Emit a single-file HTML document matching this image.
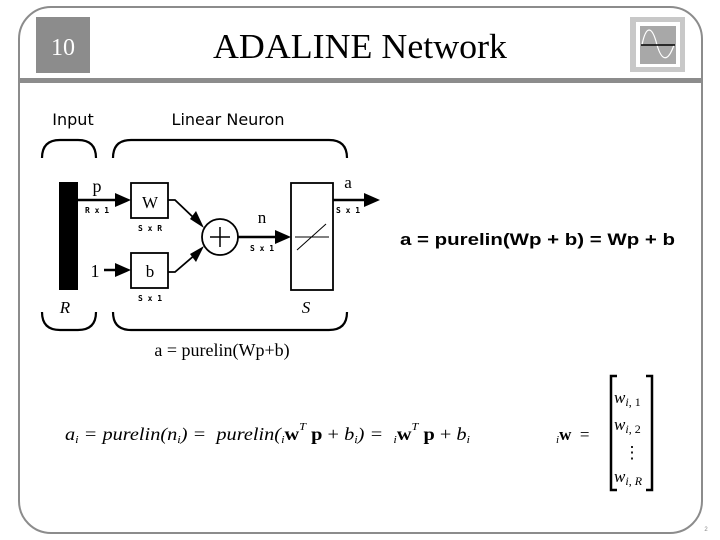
<!DOCTYPE html>
<html><head><meta charset="utf-8"><style>
html,body{margin:0;padding:0;background:#fff;}
svg{display:block;}
</style></head><body>
<svg width="720" height="540" viewBox="0 0 720 540" xmlns="http://www.w3.org/2000/svg">
<rect x="19" y="7" width="683" height="526" rx="32" ry="32" fill="#fff" stroke="#8c8c8c" stroke-width="2"/>
<rect x="19" y="78" width="683" height="5" fill="#8c8c8c"/>
<rect x="36" y="17" width="54" height="56" fill="#8c8c8c"/>
<text x="63" y="55" font-family="Liberation Serif, serif" font-size="24" fill="#fff" text-anchor="middle">10</text>
<text x="360" y="58" font-family="Liberation Serif, serif" font-size="35" fill="#000" text-anchor="middle" textLength="294" lengthAdjust="spacingAndGlyphs">ADALINE Network</text>
<rect x="630" y="17" width="55" height="55" fill="#c8c8c8"/>
<rect x="636" y="22" width="44" height="45" fill="#fff"/>
<rect x="640" y="26" width="36" height="38" fill="#a8a8a8"/>
<path d="M642 45 C646 25,652 25,657 45 C662 62,668 62,674 45" fill="none" stroke="#fff" stroke-width="1.2"/>
<line x1="641" y1="45" x2="675" y2="45" stroke="#000" stroke-width="1.5"/>

<g font-family="DejaVu Sans, sans-serif" fill="#000">
<text x="73" y="125" font-size="16" text-anchor="middle">Input</text>
<text x="228" y="125" font-size="16" text-anchor="middle">Linear Neuron</text>
</g>
<g fill="none" stroke="#000" stroke-width="2.2">
<path d="M42 158 Q42 140 60 140 L78 140 Q96 140 96 158"/>
<path d="M113 158 Q113 140 131 140 L329 140 Q347 140 347 158"/>
<path d="M42 312 Q42 330 60 330 L78 330 Q96 330 96 312"/>
<path d="M113 312 Q113 330 131 330 L329 330 Q347 330 347 312"/>
</g>
<rect x="59" y="182" width="19" height="108" fill="#000"/>
<g stroke="#000" stroke-width="2.5" fill="none">
<line x1="78" y1="200" x2="118" y2="200"/>
<line x1="104" y1="270" x2="118" y2="270"/>
<rect x="131" y="183" width="37" height="35" stroke-width="1.8"/>
<rect x="131" y="253" width="37" height="35" stroke-width="1.8"/>
<polyline points="168,200 175,200 196,220" stroke-width="1.8"/>
<polyline points="168,272 175,272 196,254" stroke-width="1.8"/>
<circle cx="220" cy="237" r="18" stroke-width="1.8"/>
<line x1="210" y1="237" x2="230" y2="237" stroke-width="1.5"/>
<line x1="220" y1="227" x2="220" y2="247" stroke-width="1.5"/>
<line x1="238" y1="237" x2="278" y2="237"/>
<rect x="291" y="183" width="42" height="107" stroke-width="1.8"/>
<line x1="295" y1="237" x2="329" y2="237" stroke-width="1"/>
<line x1="297" y1="250" x2="326" y2="224" stroke-width="1"/>
<line x1="333" y1="200" x2="367" y2="200"/>
</g>
<g fill="#000">
<polygon points="115,193 131,200 115,207"/>
<polygon points="115,263 131,270 115,277"/>
<polygon points="190,219 204,228 196,211"/>
<polygon points="190,254 204,246 196,262"/>
<polygon points="275,230 291,237 275,244"/>
<polygon points="364,193 380,200 364,207"/>
</g>
<g font-family="Liberation Serif, serif" fill="#000">
<text x="97" y="192" font-size="18" text-anchor="middle">p</text>
<text x="95" y="277" font-size="18" text-anchor="middle">1</text>
<text x="150" y="208" font-size="17" text-anchor="middle">W</text>
<text x="150" y="277" font-size="17" text-anchor="middle">b</text>
<text x="262" y="223" font-size="17" text-anchor="middle">n</text>
<text x="348" y="188" font-size="17" text-anchor="middle">a</text>
<text x="65" y="313" font-size="17" font-style="italic" text-anchor="middle">R</text>
<text x="306" y="313" font-size="17" font-style="italic" text-anchor="middle">S</text>
<text x="222" y="356" font-size="18" text-anchor="middle">a = purelin(Wp+b)</text>
</g>
<g font-family="DejaVu Sans Mono, monospace" font-size="8" font-weight="bold" fill="#000" text-anchor="middle">
<text x="97" y="213">R x 1</text>
<text x="150" y="231">S x R</text>
<text x="150" y="301">S x 1</text>
<text x="262" y="251">S x 1</text>
<text x="348" y="213">S x 1</text>
</g>
<text x="400" y="245" font-family="Liberation Sans, sans-serif" font-size="17" font-weight="bold" fill="#000" textLength="275" lengthAdjust="spacingAndGlyphs" xml:space="preserve">a = purelin(Wp + b) = Wp + b</text>
<text x="65" y="440" font-family="Liberation Serif, serif" font-size="18" font-style="italic" fill="#000" xml:space="preserve" textLength="405" lengthAdjust="spacingAndGlyphs">a<tspan font-size="11" dy="3">i</tspan><tspan dy="-3"> = purelin(n</tspan><tspan font-size="11" dy="3">i</tspan><tspan dy="-3">) =  purelin(</tspan><tspan font-size="11" dy="3">i</tspan><tspan dy="-3" font-style="normal" font-weight="bold">w</tspan><tspan font-size="11" dy="-10">T</tspan><tspan dy="10" font-style="normal" font-weight="bold"> p</tspan><tspan font-style="normal"> + </tspan>b<tspan font-size="11" dy="3">i</tspan><tspan dy="-3">) =  </tspan><tspan font-size="11" dy="3">i</tspan><tspan dy="-3" font-style="normal" font-weight="bold">w</tspan><tspan font-size="11" dy="-10">T</tspan><tspan dy="10" font-style="normal" font-weight="bold"> p</tspan><tspan font-style="normal"> + </tspan>b<tspan font-size="11" dy="3">i</tspan></text>
<text x="556" y="440" font-family="Liberation Serif, serif" font-size="17" fill="#000" xml:space="preserve"><tspan font-style="italic" font-size="11" dy="3">i</tspan><tspan dy="-3" font-weight="bold">w</tspan>  =</text>
<g fill="none" stroke="#000" stroke-width="2.5">
<polyline points="617,376 611,376 611,490 617,490"/>
<polyline points="646,376 652,376 652,490 646,490"/>
</g>
<g font-family="Liberation Serif, serif" font-size="17" fill="#000">
<text x="614" y="403"><tspan font-style="italic">w</tspan><tspan font-size="12" font-style="italic" dy="3">i</tspan><tspan font-size="12">, 1</tspan></text>
<text x="614" y="430"><tspan font-style="italic">w</tspan><tspan font-size="12" font-style="italic" dy="3">i</tspan><tspan font-size="12">, 2</tspan></text>
<text x="632" y="458" text-anchor="middle">⋮</text>
<text x="614" y="482"><tspan font-style="italic">w</tspan><tspan font-size="12" font-style="italic" dy="3">i</tspan><tspan font-size="12">, </tspan><tspan font-size="12" font-style="italic">R</tspan></text>
</g>
<text x="706" y="531" font-family="Liberation Sans, sans-serif" font-size="6" fill="#888" text-anchor="middle">2</text>
</svg>
</body></html>
